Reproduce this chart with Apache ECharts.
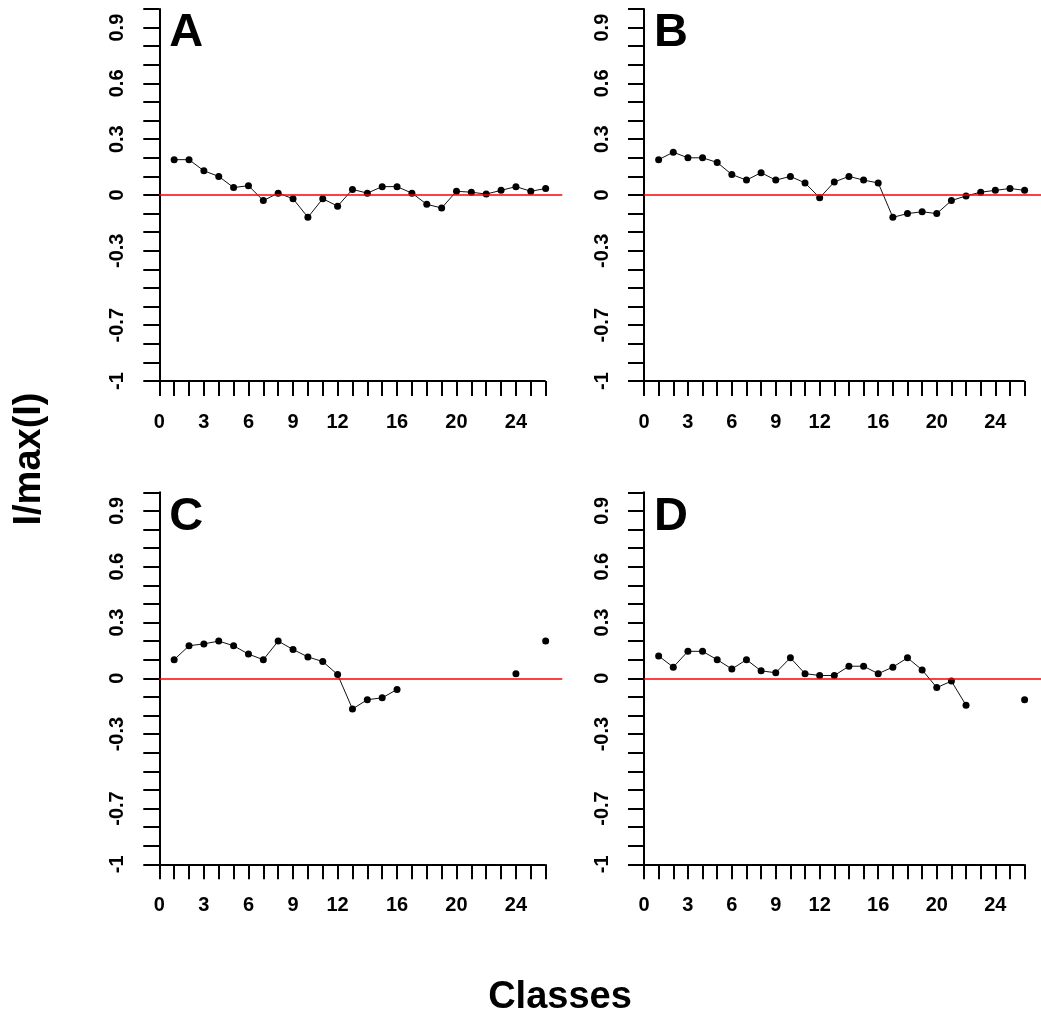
<!DOCTYPE html>
<html>
<head>
<meta charset="utf-8">
<script src="https://cdn.jsdelivr.net/npm/echarts@6/dist/echarts.min.js"></script>
<style>
  html, body { margin: 0; padding: 0; background: #fff; }
  #main { width: 1041px; height: 1015px; }
</style>
</head>
<body>
<div id="main"></div>
<script>
// distance classes
var classes = [1, 2, 3, 4, 5, 6, 7, 8, 9, 10, 11, 12, 13, 14, 15, 16, 17, 18, 19, 20, 21, 22, 23, 24, 25, 26];

// I/max(I) per panel (null = no value in that class)
var valuesA = [0.19, 0.19, 0.13, 0.10, 0.04, 0.05, -0.03, 0.01, -0.02, -0.12, -0.02, -0.06, 0.03, 0.01, 0.045, 0.045, 0.01, -0.05, -0.07, 0.02, 0.015, 0.005, 0.025, 0.045, 0.02, 0.035];
var valuesB = [0.19, 0.23, 0.20, 0.20, 0.175, 0.11, 0.08, 0.12, 0.08, 0.10, 0.065, -0.015, 0.07, 0.10, 0.08, 0.065, -0.12, -0.10, -0.09, -0.10, -0.03, -0.005, 0.015, 0.025, 0.035, 0.025];
var valuesC = [0.10, 0.175, 0.185, 0.20, 0.175, 0.13, 0.10, 0.20, 0.155, 0.115, 0.09, 0.02, -0.165, -0.115, -0.105, -0.06, null, null, null, null, null, null, null, 0.025, null, 0.20];
var valuesD = [0.12, 0.06, 0.145, 0.145, 0.10, 0.05, 0.10, 0.04, 0.03, 0.11, 0.025, 0.015, 0.015, 0.065, 0.065, 0.025, 0.06, 0.11, 0.045, -0.05, -0.015, -0.145, null, null, null, -0.115];

// ticks and labels
var xTicks = [0, 1, 2, 3, 4, 5, 6, 7, 8, 9, 10, 11, 12, 13, 14, 15, 16, 17, 18, 19, 20, 21, 22, 23, 24, 25, 26];
var xLabels = [0, 3, 6, 9, 12, 16, 20, 24];
var yTicks = [-1, -0.9, -0.8, -0.7, -0.6, -0.5, -0.4, -0.3, -0.2, -0.1, 0, 0.1, 0.2, 0.3, 0.4, 0.5, 0.6, 0.7, 0.8, 0.9, 1];
var yLabels = [-1, -0.7, -0.3, 0, 0.3, 0.6, 0.9];

var panelNames = ["A", "B", "C", "D"];
var panelValues = [valuesA, valuesB, valuesC, valuesD];

var FONT = '"Liberation Sans", Arial, sans-serif';

// panel boxes (left edge = y axis, width goes a bit past class 26 like the R plot region)
var boxes = [
  { left: 159.3, top: 9 },
  { left: 644, top: 9 },
  { left: 159.3, top: 492.3 },
  { left: 644, top: 492.3 }
];
var xMax = 27.12;
var gridW = 403;
var gridH = 372;

var grids = [], xAxes = [], yAxes = [], series = [], titles = [];

boxes.forEach(function (b, i) {
  grids.push({ left: b.left, top: b.top, width: gridW, height: gridH, containLabel: false });

  xAxes.push({
    type: "value",
    gridIndex: i,
    min: 0,
    max: xMax,
    axisLine: { show: false, onZero: false },
    axisTick: {
      show: true,
      customValues: xTicks,
      length: 15,
      lineStyle: { color: "#000", width: 2 }
    },
    axisLabel: {
      customValues: xLabels,
      margin: 31,
      color: "#000",
      fontFamily: FONT,
      fontWeight: "bold",
      fontSize: 20
    },
    splitLine: { show: false }
  });

  yAxes.push({
    type: "value",
    gridIndex: i,
    min: -1,
    max: 1,
    axisLine: { show: true, onZero: false, lineStyle: { color: "#000", width: 2 } },
    axisTick: {
      show: true,
      customValues: yTicks,
      length: 16,
      lineStyle: { color: "#000", width: 2 }
    },
    axisLabel: {
      customValues: yLabels,
      rotate: 90,
      margin: 32,
      color: "#000",
      fontFamily: FONT,
      fontWeight: "bold",
      fontSize: 20
    },
    splitLine: { show: false }
  });

  var vals = panelValues[i];
  series.push({
    type: "line",
    xAxisIndex: i,
    yAxisIndex: i,
    data: classes.map(function (c, k) { return [c, vals[k]]; }),
    connectNulls: false,
    symbol: "circle",
    symbolSize: 7,
    showSymbol: true,
    itemStyle: { color: "#000" },
    lineStyle: { color: "#111", width: 1 },
    z: 3,
    markLine: {
      silent: true,
      symbol: "none",
      label: { show: false },
      animation: false,
      data: [
        // red reference line at 0
        { yAxis: 0, lineStyle: { color: "#ff0000", width: 1.5, type: "solid" } },
        // x axis line from 0 to 26
        [
          { coord: [0, -1], lineStyle: { color: "#000", width: 2, type: "solid" } },
          { coord: [26, -1] }
        ]
      ]
    }
  });

  titles.push({
    text: panelNames[i],
    left: b.left + 10,
    top: b.top + 1,
    padding: 0,
    textStyle: { fontFamily: FONT, fontWeight: "bold", fontSize: 47, color: "#000" }
  });
});

var chart = echarts.init(document.getElementById("main"), null, { renderer: "canvas" });

var option = {
  backgroundColor: "#fff",
  animation: false,
  title: titles,
  grid: grids,
  xAxis: xAxes,
  yAxis: yAxes,
  series: series,
  graphic: [
    {
      type: "text",
      x: 30,
      y: 459,
      rotation: Math.PI / 2,
      style: {
        text: "I/max(I)",
        font: 'bold 38px "Liberation Sans", Arial, sans-serif',
        fill: "#000",
        align: "center",
        verticalAlign: "middle",
        textAlign: "center",
        textVerticalAlign: "middle"
      }
    },
    {
      type: "text",
      x: 560,
      y: 998,
      style: {
        text: "Classes",
        font: 'bold 38px "Liberation Sans", Arial, sans-serif',
        fill: "#000",
        align: "center",
        verticalAlign: "middle",
        textAlign: "center",
        textVerticalAlign: "middle"
      }
    }
  ]
};

chart.setOption(option);
</script>
</body>
</html>
